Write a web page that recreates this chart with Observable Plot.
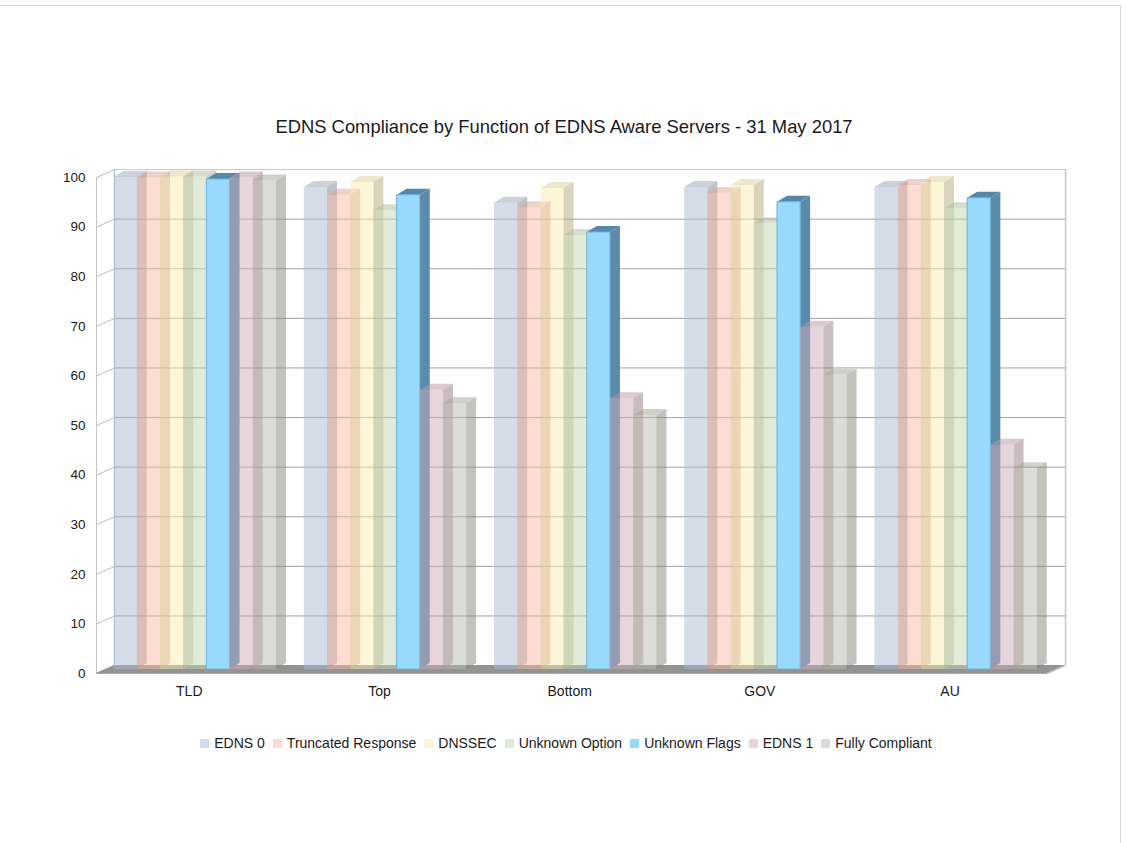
<!DOCTYPE html>
<html>
<head>
<meta charset="utf-8">
<script src="https://cdn.jsdelivr.net/npm/d3@7"></script>
<script src="https://cdn.jsdelivr.net/npm/@observablehq/plot@0.6"></script>
<style>
  html, body { margin: 0; padding: 0; background: #fff; }
  body { position: relative; width: 1126px; height: 843px; overflow: hidden;
         font-family: "Liberation Sans", Arial, Helvetica, sans-serif; color: #1a1a1a; }
  #frame { position: absolute; left: -1px; top: 5px; width: 1122px; height: 845px;
           border: 1px solid #d6d6d6; box-sizing: border-box; }
  #title { position: absolute; left: 0; top: 115px; width: 1128px; text-align: center;
           font-size: 18.4px; line-height: 24px; }
  #chart { position: absolute; left: 0; top: 150px; }
  #chart svg g[aria-label^="x-axis"] text { font-size: 14px; }
  #legend { position: absolute; left: 0; top: 734px; width: 1132px; display: flex;
            justify-content: center; align-items: center; font-size: 14px; line-height: 18px; }
  #legend .item { display: flex; align-items: center; margin: 0 4px; }
  #legend .sw { width: 9px; height: 9px; margin-right: 5px; }
</style>
</head>
<body>
<div id="frame"></div>
<div id="title">EDNS Compliance by Function of EDNS Aware Servers - 31 May 2017</div>
<div id="chart"></div>
<div id="legend"></div>
<script>
// Server groups along the x axis
const groups = ["TLD", "Top", "Bottom", "GOV", "AU"];

// Test categories, one column per group
const seriesNames = ["EDNS 0", "Truncated Response", "DNSSEC", "Unknown Option",
                     "Unknown Flags", "EDNS 1", "Fully Compliant"];

// Percentage of EDNS aware servers passing each test (TLD, Top, Bottom, GOV, AU)
const edns0          = [99.2, 97.2, 94.0, 97.2, 97.2];
const truncated      = [99.1, 95.6, 93.1, 96.0, 97.6];
const dnssec         = [99.3, 98.2, 97.0, 97.6, 98.2];
const unknownOption  = [99.3, 92.5, 87.5, 89.9, 92.9];
const unknownFlags   = [98.8, 95.6, 88.1, 94.2, 95.0];
const edns1          = [99.1, 56.3, 54.6, 69.0, 45.2];
const fullyCompliant = [98.5, 53.6, 51.2, 59.3, 40.5];

const seriesValues = [edns0, truncated, dnssec, unknownOption, unknownFlags, edns1, fullyCompliant];

// Value axis ticks
const yTicks = [0, 10, 20, 30, 40, 50, 60, 70, 80, 90, 100];

// Styling: Unknown Flags is highlighted, the others are washed out
const baseColors   = ["#abbbd3", "#fbb9a5", "#fbebb1", "#c5d7b3", "#99d9fc", "#cfabb9", "#b9b9ad"];
const swatchColors = ["#d5dde9", "#fddcd2", "#fdf5d8", "#e2ebd9", "#99d9fc", "#e7d5dc", "#dcdcd6"];
const highlight = 4;

// Layout in x units (one unit = one column width)
const GROUP_STEP = 8.2, FIRST_BAR = 0.5, X_MAX = 41;
// Depth of the floor / back wall, and of each column (x units, value units)
const WALL_DX = 0.78, WALL_DY = 1.6;
const BAR_DX = 0.43, BAR_DY = 1.2;
const barShift = {dx: 6, dy: -4};

const groupCenters = groups.map((g, i) => i * GROUP_STEP + FIRST_BAR + seriesNames.length / 2);

const marks = [];

// Back wall grid lines and outline
marks.push(Plot.ruleY(yTicks.filter(t => t > 0 && t < 100), {
  y: d => d + WALL_DY, x1: WALL_DX, x2: X_MAX + WALL_DX, stroke: "#a3a3a3", strokeWidth: 1
}));
marks.push(Plot.ruleY([100], {y: d => d + WALL_DY, x1: WALL_DX, x2: X_MAX + WALL_DX, stroke: "#c6c6c6"}));
marks.push(Plot.ruleX([WALL_DX], {y1: WALL_DY, y2: 100 + WALL_DY, stroke: "#a9bdd0"}));
marks.push(Plot.ruleX([X_MAX + WALL_DX], {y1: WALL_DY, y2: 100 + WALL_DY, stroke: "#c6c6c6", strokeWidth: 1.5}));

// Left side wall: front edge and the slanted tick lines
marks.push(Plot.ruleX([0], {y1: 0, y2: 100, stroke: "#c6c6c6"}));
marks.push(Plot.link(yTicks, {x1: 0, y1: d => d, x2: WALL_DX, y2: d => d + WALL_DY, stroke: "#bdbdbd"}));

// Floor slab
marks.push(Plot.areaX(
  [{y: 0, x1: 0, x2: X_MAX}, {y: WALL_DY, x1: WALL_DX, x2: X_MAX + WALL_DX}],
  {y: "y", x1: "x1", x2: "x2", fill: "#939393"}
));
marks.push(Plot.link([0], {x1: X_MAX, y1: 0, x2: X_MAX + WALL_DX, y2: WALL_DY, stroke: "#b4b4b4"}));
marks.push(Plot.ruleY([0], {x1: 0, x2: X_MAX, stroke: "#a8a8a8"}));

// Columns: side face, top face, then front face, series by series
seriesNames.forEach((name, si) => {
  const isHi = si === highlight;
  const base = baseColors[si];
  const front = base;
  const side = isHi ? "#5b8aaa" : d3.color(base).darker(0.9).formatHex();
  const top = isHi ? "#5686a8" : d3.color(base).darker(0.35).formatHex();
  const op = isHi ? 1 : 0.5;

  const bars = groups.map((g, gi) => ({
    id: `${g}-${si}`, x: gi * GROUP_STEP + FIRST_BAR + si, v: seriesValues[si][gi]
  }));
  const sidePts = bars.flatMap(b => [
    {id: b.id, x: b.x + 1, y1: 0, y2: b.v},
    {id: b.id, x: b.x + 1 + BAR_DX, y1: BAR_DY, y2: b.v + BAR_DY}
  ]);
  const topPts = bars.flatMap(b => [
    {id: b.id, y: b.v, x1: b.x, x2: b.x + 1},
    {id: b.id, y: b.v + BAR_DY, x1: b.x + BAR_DX, x2: b.x + 1 + BAR_DX}
  ]);

  marks.push(Plot.areaY(sidePts, {x: "x", y1: "y1", y2: "y2", z: "id", fill: side, fillOpacity: op, ...barShift}));
  marks.push(Plot.areaX(topPts, {y: "y", x1: "x1", x2: "x2", z: "id", fill: top, fillOpacity: op, ...barShift}));
  marks.push(Plot.rect(bars, {
    x1: "x", x2: d => d.x + 1, y1: 0, y2: "v",
    fill: front, fillOpacity: op,
    stroke: isHi ? "#6fb3dc" : "none", strokeWidth: 1,
    ...barShift
  }));
});

const chart = Plot.plot({
  width: 1126,
  height: 560,
  marginLeft: 96,
  marginRight: 79,
  marginTop: 27,
  marginBottom: 37,
  style: {fontFamily: '"Liberation Sans", Arial, Helvetica, sans-serif', fontSize: "13.5px", color: "#1a1a1a", background: "transparent"},
  x: {domain: [0, X_MAX], ticks: groupCenters, tickFormat: d => groups[groupCenters.indexOf(d)],
      tickSize: 0, tickPadding: 13, label: null},
  y: {domain: [0, 100], ticks: yTicks, tickSize: 0, tickPadding: 11, label: null},
  marks
});
document.getElementById("chart").append(chart);

// Legend
const legend = document.getElementById("legend");
seriesNames.forEach((name, i) => {
  const item = document.createElement("div");
  item.className = "item";
  const sw = document.createElement("span");
  sw.className = "sw";
  sw.style.background = swatchColors[i];
  const label = document.createElement("span");
  label.textContent = name;
  item.append(sw, label);
  legend.append(item);
});
</script>
</body>
</html>
